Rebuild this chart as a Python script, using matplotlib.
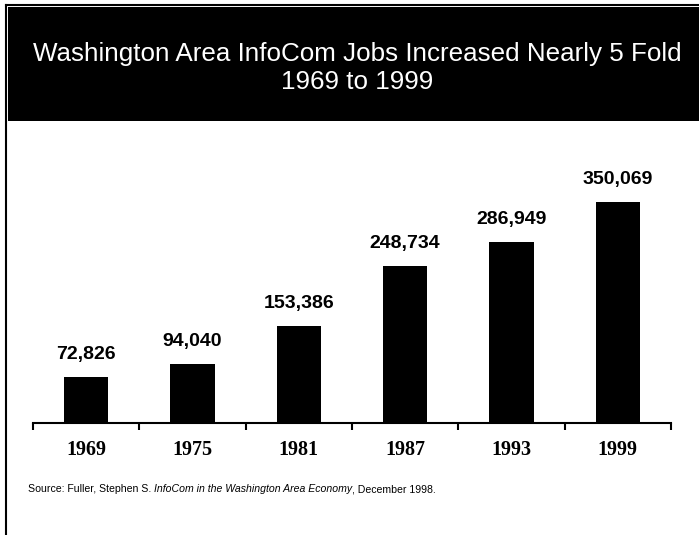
import numpy as np
import matplotlib
matplotlib.use("Agg")
import matplotlib.pyplot as plt
from matplotlib.patches import Rectangle
from matplotlib.lines import Line2D

# InfoCom employment, Washington area
years = ["1969", "1975", "1981", "1987", "1993", "1999"]
jobs = [72826, 94040, 153386, 248734, 286949, 350069]

title = "Washington Area InfoCom Jobs Increased Nearly 5 Fold\n1969 to 1999"
source_parts = ["Source: Fuller, Stephen S. ",
                "InfoCom in the Washington Area Economy",
                ", December 1998."]
source_styles = ["normal", "italic", "normal"]

W, H = 699, 535
fig = plt.figure(figsize=(W / 100, H / 100), dpi=100)


def fx(px):
    return px / W


def fy(py):
    return 1 - py / H


# frame lines and black header band
fig.add_artist(Line2D([fx(6), 1], [fy(5), fy(5)], color="black", lw=1.5,
                      transform=fig.transFigure))
fig.add_artist(Line2D([fx(6), fx(6)], [fy(5), 0], color="black", lw=1.5,
                      transform=fig.transFigure))
fig.add_artist(Rectangle((fx(8), fy(121)), 1 - fx(8), (121 - 7) / H,
                         facecolor="black", edgecolor="none",
                         transform=fig.transFigure))
fig.text(fx(357), fy(68), title, color="white", ha="center", va="center",
         fontsize=18.7, family="Liberation Sans", linespacing=1.17)

# bar chart
ax = fig.add_axes([fx(33), fy(423), fx(671) - fx(33), (423 - 170.5) / H])
x = np.arange(len(years))
ax.bar(x, jobs, width=0.42, color="black")
ax.set_xlim(-0.5, len(years) - 0.5)
ax.set_ylim(0, 400000)

for side in ("top", "right", "left"):
    ax.spines[side].set_visible(False)
ax.spines["bottom"].set_linewidth(1.5)
ax.set_yticks([])

ax.set_xticks(x)
ax.set_xticklabels(years, family="Liberation Serif", fontweight="bold",
                   fontsize=14.5)
ax.tick_params(axis="x", which="major", length=0, pad=12)
ax.set_xticks(np.arange(-0.5, len(years)), minor=True)
ax.tick_params(axis="x", which="minor", direction="out", length=5, width=1.5)

for xi, v in zip(x, jobs):
    ax.annotate(f"{v:,}", (xi, v), xytext=(0, 10), textcoords="offset points",
                ha="center", va="bottom", fontsize=14, fontweight="bold",
                family="Liberation Sans")

# source line on one baseline, report title in italics
renderer = fig.canvas.get_renderer()
x_px = 28
for part, style in zip(source_parts, source_styles):
    t = fig.text(fx(x_px), fy(492), part, fontsize=7.6, style=style,
                 family="Liberation Sans", va="baseline")
    x_px += t.get_window_extent(renderer).width

fig.savefig("out.png", dpi=100)
